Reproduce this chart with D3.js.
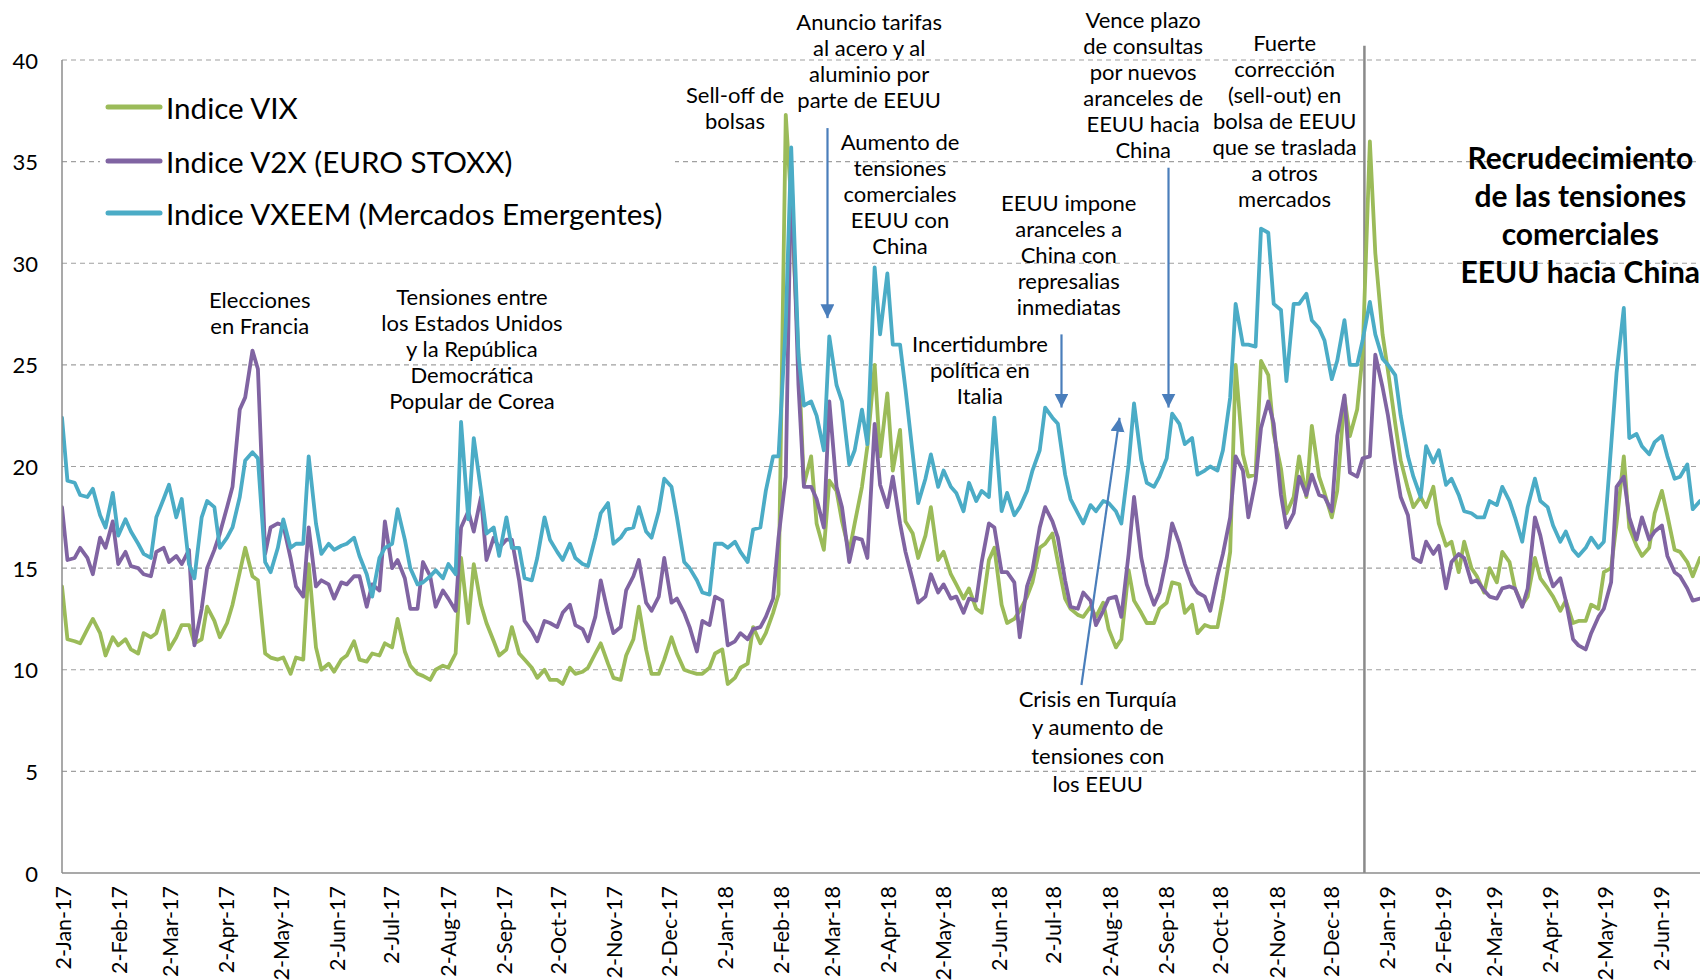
<!DOCTYPE html>
<html><head><meta charset="utf-8">
<script src="https://cdn.jsdelivr.net/npm/d3@7"></script>
<style>
html,body{margin:0;padding:0;background:#fff;}
svg{display:block;font-family:Lato,"Open Sans",sans-serif;}
</style>
</head><body>
<svg id="chart" width="1700" height="980"></svg>
<script>
// ---------------- DATA ----------------
const seriesNames = ["Indice VIX", "Indice V2X (EURO STOXX)", "Indice VXEEM (Mercados Emergentes)"];

// Sampled every Monday and Thursday, 2-Jan-2017 .. 24-Jun-2019
const vix = [
14.1,11.5, 11.4,11.3, 12.0,12.5, 11.8,10.7, 11.6,11.2, 11.5,11.0, 10.8,11.8, 11.6,11.8,
12.9,11.0, 11.6,12.2, 12.2,11.3, 11.5,13.1, 12.4,11.6, 12.3,13.2, 14.8,16.0, 14.6,14.4,
10.8,10.6, 10.5,10.6, 9.8,10.6, 10.5,15.2, 11.1,10.0, 10.3,9.9, 10.5,10.7, 11.4,10.5,
10.4,10.8, 10.7,11.3, 11.1,12.5, 10.9,10.2, 9.8,9.7, 9.5,10.0, 10.2,10.1, 10.8,15.5,
12.3,15.2, 13.2,12.3, 11.4,10.7, 11.0,12.1, 10.8,10.5, 10.1,9.6, 10.0,9.5, 9.5,9.3,
10.1,9.8, 9.9,10.1, 10.8,11.3, 10.3,9.6, 9.5,10.7, 11.5,13.1, 11.0,9.8, 9.8,10.5,
11.6,10.8, 10.0,9.9, 9.8,9.8, 10.1,10.8, 11.0,9.3, 9.6,10.1, 10.3,12.1, 11.3,11.8,
12.8,13.7, 37.3,33.0, 25.5,19.1, 20.5,17.2, 15.9,19.3, 18.8,17.3, 15.8,17.2, 19.0,21.0,
25.0,20.5, 23.6,19.8, 21.8,17.3, 16.7,15.5, 16.6,18.0, 15.4,15.8, 14.7,14.2, 13.5,14.0,
13.0,12.8, 15.4,16.0, 13.2,12.3, 12.5,12.9, 13.6,14.3, 16.0,16.2, 16.7,15.3, 13.5,13.0,
12.7,12.6, 13.1,12.6, 13.3,12.0, 11.1,11.5, 14.9,13.4, 12.8,12.3, 12.3,13.0, 13.3,14.3,
14.2,12.8, 13.2,11.8, 12.2,12.1, 12.1,13.5, 15.8,25.0, 20.6,19.5, 19.6,25.2, 24.5,21.6,
19.9,17.7, 18.5,20.5, 18.5,22.0, 19.5,18.7, 17.5,18.8, 23.4,21.5, 22.8,25.5, 36.0,30.5,
26.5,24.7, 22.1,20.3, 18.9,18.0, 18.5,18.0, 19.0,17.2, 16.1,16.3, 14.8,16.3, 15.0,14.6,
13.8,15.0, 14.3,15.8, 15.3,14.0, 13.2,13.6, 15.5,14.5, 14.0,13.6, 12.9,13.4, 12.3,12.4,
12.4,13.2, 13.0,14.8, 15.0,17.2, 20.5,17.0, 16.1,15.6, 16.0,17.7, 18.8,17.6, 15.9,15.8,
15.3,14.6, 15.5
];
const v2x = [
18.0,15.4, 15.5,16.0, 15.5,14.7, 16.5,16.0, 17.3,15.2, 15.8,15.1, 15.0,14.7, 14.6,15.8,
16.0,15.3, 15.6,15.2, 15.9,11.2, 13.0,15.0, 15.9,16.7, 18.0,19.0, 22.8,23.4, 25.7,24.8,
15.7,17.0, 17.2,17.1, 15.5,14.1, 13.6,17.0, 14.1,14.4, 14.2,13.5, 14.3,14.2, 14.6,14.6,
13.1,14.2, 13.9,17.3, 15.0,15.4, 14.5,13.0, 13.0,15.3, 14.6,13.1, 13.9,13.5, 12.9,17.0,
17.8,16.8, 18.5,15.4, 16.5,16.0, 16.4,16.4, 14.4,12.4, 11.9,11.4, 12.4,12.3, 12.1,12.8,
13.2,12.2, 12.0,11.4, 12.6,14.4, 12.8,11.8, 12.1,13.9, 14.6,15.4, 13.3,12.9, 13.6,15.5,
13.3,13.5, 12.8,12.1, 10.9,12.4, 12.2,13.6, 13.4,11.2, 11.4,11.8, 11.5,12.0, 12.1,12.6,
13.5,16.5, 19.5,34.8, 24.0,19.0, 19.0,18.4, 17.0,23.2, 19.0,18.0, 15.3,16.5, 16.4,15.5,
22.1,19.1, 18.0,19.5, 17.2,15.8, 14.4,13.3, 13.6,14.7, 13.8,14.2, 13.5,13.6, 12.8,13.5,
13.4,15.3, 17.2,17.0, 14.8,14.8, 14.3,11.6, 14.1,14.9, 17.0,18.0, 17.3,16.5, 14.4,13.1,
13.0,13.8, 13.4,12.2, 12.9,13.5, 13.6,12.6, 15.7,18.5, 15.5,14.2, 13.2,13.8, 15.5,17.2,
16.2,15.2, 14.2,13.8, 13.6,12.9, 14.6,15.7, 17.5,20.5, 19.8,17.5, 19.3,21.9, 23.2,22.1,
18.6,17.0, 17.7,19.5, 18.6,19.6, 18.6,18.5, 17.8,21.5, 23.5,19.7, 19.5,20.4, 20.5,25.5,
23.9,22.5, 20.1,18.5, 17.6,15.5, 15.3,16.3, 15.7,16.1, 14.0,15.3, 15.7,15.5, 14.3,14.4,
13.9,13.6, 13.5,14.0, 14.1,14.0, 13.1,14.0, 17.5,16.6, 14.9,14.1, 14.5,13.4, 11.5,11.2,
11.0,11.8, 12.6,13.0, 14.3,19.0, 19.5,17.5, 16.4,17.5, 16.4,16.8, 17.1,15.6, 14.8,14.6,
14.0,13.4, 13.5
];
const vxeem = [
22.4,19.3, 19.2,18.6, 18.5,18.9, 17.6,17.0, 18.7,16.6, 17.4,16.8, 16.2,15.7, 15.5,17.5,
18.4,19.1, 17.5,18.4, 15.2,14.5, 17.5,18.3, 18.0,16.0, 16.5,17.0, 18.5,20.3, 20.7,20.4,
15.3,14.8, 16.0,17.4, 16.0,16.2, 16.2,20.5, 17.2,15.7, 16.2,15.9, 16.1,16.2, 16.5,15.6,
14.7,13.6, 15.5,16.0, 16.2,17.9, 16.4,15.0, 14.2,14.3, 14.6,14.9, 14.5,15.2, 14.7,22.2,
17.4,21.4, 18.8,16.7, 17.0,15.6, 17.5,16.0, 16.0,14.5, 14.4,15.5, 17.5,16.4, 15.8,15.4,
16.2,15.5, 15.2,15.1, 16.5,17.7, 18.2,16.2, 16.5,16.9, 17.0,18.0, 16.8,16.5, 17.8,19.4,
19.0,17.5, 15.3,15.0, 14.4,13.8, 13.7,16.2, 16.2,16.0, 16.3,15.8, 15.3,16.9, 17.0,18.8,
20.5,20.5, 27.0,35.7, 25.5,23.0, 23.2,22.5, 20.8,26.4, 24.0,23.2, 20.1,20.8, 22.8,21.1,
29.8,26.5, 29.5,26.0, 26.0,23.8, 20.6,18.2, 19.4,20.6, 19.0,19.8, 19.0,18.7, 17.8,19.2,
18.3,18.8, 18.5,22.4, 17.8,18.7, 17.6,18.0, 18.8,19.8, 20.8,22.9, 22.4,22.1, 19.6,18.4,
17.7,17.2, 18.1,17.8, 18.3,18.2, 17.8,17.2, 20.1,23.1, 20.3,19.2, 19.0,19.5, 20.4,22.6,
22.1,21.1, 21.4,19.6, 19.8,20.0, 19.8,20.8, 23.4,28.0, 26.0,26.0, 25.9,31.7, 31.5,28.0,
27.7,24.2, 28.0,28.0, 28.5,27.2, 26.8,26.2, 24.3,25.2, 27.2,25.0, 25.0,26.2, 28.1,26.5,
25.3,25.0, 24.5,22.5, 20.5,19.5, 18.5,21.0, 20.2,20.8, 19.1,19.4, 18.6,17.8, 17.7,17.5,
17.5,18.3, 18.1,19.0, 18.3,17.5, 16.3,18.0, 19.4,18.3, 18.0,17.1, 16.3,16.8, 15.9,15.6,
16.0,16.5, 16.0,16.3, 21.0,24.6, 27.8,21.4, 21.6,21.0, 20.6,21.2, 21.5,20.5, 19.4,19.5,
20.1,17.9, 18.3
];

const xTickLabels = ["2-Jan-17","2-Feb-17","2-Mar-17","2-Apr-17","2-May-17","2-Jun-17","2-Jul-17","2-Aug-17",
"2-Sep-17","2-Oct-17","2-Nov-17","2-Dec-17","2-Jan-18","2-Feb-18","2-Mar-18","2-Apr-18","2-May-18","2-Jun-18",
"2-Jul-18","2-Aug-18","2-Sep-18","2-Oct-18","2-Nov-18","2-Dec-18","2-Jan-19","2-Feb-19","2-Mar-19","2-Apr-19",
"2-May-19","2-Jun-19"];
const yTicks = [0,5,10,15,20,25,30,35,40];

const annotationTexts = [
  {date:"2017-04-21", value:28.2,  lines:["Elecciones","en Francia"]},
  {date:"2017-08-16", value:28.34, lines:["Tensiones entre","los Estados Unidos","y la República","Democrática","Popular de Corea"]},
  {date:"2018-01-08", value:38.28, lines:["Sell-off de","bolsas"]},
  {date:"2018-03-23", value:41.87, lines:["Anuncio tarifas","al acero y al","aluminio por","parte de EEUU"]},
  {date:"2018-04-09", value:35.97, lines:["Aumento de","tensiones","comerciales","EEUU con","China"]},
  {date:"2018-07-11", value:33.01, lines:["EEUU impone","aranceles a","China con","represalias","inmediatas"]},
  {date:"2018-05-23", value:26.03, lines:["Incertidumbre","política en","Italia"]},
  {date:"2018-08-21", value:41.97, lines:["Vence plazo","de consultas","por nuevos","aranceles de","EEUU hacia","China"]},
  {date:"2018-11-07", value:40.84, lines:["Fuerte","corrección","(sell-out) en","bolsa de EEUU","que se traslada","a otros","mercados"]},
  {date:"2018-07-27", value:8.61,  lines:["Crisis en Turquía","y aumento de","tensiones con","los EEUU"], spacing:28.5},
  {date:"2019-04-19", value:35.23, lines:["Recrudecimiento","de las tensiones","comerciales","EEUU hacia China"], bold:true}
];
const arrowDefs = [
  {from:["2018-02-28",36.65], to:["2018-02-28",27.3]},
  {from:["2018-07-07",26.5],  to:["2018-07-07",22.9]},
  {from:["2018-09-04",34.7],  to:["2018-09-04",22.9]},
  {from:["2018-07-18",9.25],  to:["2018-08-08",22.4]}
];
const eventLineDate = "2018-12-21";

// ---------------- CHART ----------------
const M = {left:62, right:1700, top:60, bottom:873};
const svg = d3.select("#chart");
const parseTick = d3.timeParse("%d-%b-%y");
const parseISO = d3.timeParse("%Y-%m-%d");

const mondays = d3.timeMonday.range(new Date(2017,0,2), new Date(2019,5,25));
const dates = mondays.flatMap((m,i) => i < mondays.length-1 ? [m, d3.timeDay.offset(m,3)] : [m]);

const x = d3.scaleTime().domain([new Date(2017,0,2), new Date(2019,5,24)]).range([M.left, M.right]);
const y = d3.scaleLinear().domain([0,40]).range([M.bottom, M.top]);

const gridColor = "#a0a0a0";
const axisColor = "#8c8c8c";

// gridlines
svg.append("g").selectAll("line").data(yTicks.filter(v=>v>0)).join("line")
  .attr("x1", M.left).attr("x2", M.right)
  .attr("y1", d=>y(d)).attr("y2", d=>y(d))
  .attr("stroke", gridColor).attr("stroke-width",1.2).attr("stroke-dasharray","5,4");

// y tick labels
svg.append("g").selectAll("text").data(yTicks).join("text")
  .attr("x", 38).attr("y", d=>y(d)).attr("text-anchor","end").attr("dominant-baseline","central")
  .attr("font-size",22).attr("fill","#000").text(d=>d);

// x labels
svg.append("g").selectAll("text").data(xTickLabels).join("text")
  .attr("transform", d=>`translate(${x(parseTick(d))+1},886) rotate(-90)`)
  .attr("text-anchor","end").attr("dominant-baseline","central")
  .attr("font-size",21.5).attr("fill","#000").text(d=>d);

// clip
svg.append("clipPath").attr("id","plotclip").append("rect")
  .attr("x", M.left).attr("y", 0).attr("width", M.right-M.left).attr("height", M.bottom);

// event vertical line
svg.append("line")
  .attr("x1", x(parseISO(eventLineDate))).attr("x2", x(parseISO(eventLineDate)))
  .attr("y1", y(40.7)).attr("y2", y(0))
  .attr("stroke","#8a8a8a").attr("stroke-width",2.5);

// series lines
const seriesData = [
  {name:seriesNames[0], values:vix,   color:"#9BBB59"},
  {name:seriesNames[1], values:v2x,   color:"#8064A2"},
  {name:seriesNames[2], values:vxeem, color:"#4BACC6"}
];
const line = d3.line().x((d,i)=>x(dates[i])).y(d=>y(d)).curve(d3.curveLinear);
const lg = svg.append("g").attr("clip-path","url(#plotclip)");
seriesData.forEach(s=>{
  lg.append("path").datum(s.values.slice(0, dates.length))
    .attr("d", line).attr("fill","none").attr("stroke", s.color)
    .attr("stroke-width",3.8).attr("stroke-linejoin","round").attr("stroke-linecap","round");
});

// axes lines
svg.append("line").attr("x1",M.left).attr("x2",M.left).attr("y1",M.top).attr("y2",M.bottom)
  .attr("stroke",axisColor).attr("stroke-width",1.5);
svg.append("line").attr("x1",M.left).attr("x2",M.right).attr("y1",M.bottom).attr("y2",M.bottom)
  .attr("stroke",axisColor).attr("stroke-width",1.5);

// legend
const leg = svg.append("g");
leg.append("rect").attr("x",100).attr("y",80).attr("width",575).attr("height",158).attr("fill","#fff");
const legY = [107,161,213];
seriesData.forEach((s,i)=>{
  leg.append("line").attr("x1",108).attr("x2",160).attr("y1",legY[i]).attr("y2",legY[i])
    .attr("stroke",s.color).attr("stroke-width",5).attr("stroke-linecap","round");
  leg.append("text").attr("x",166).attr("y",legY[i]).attr("dominant-baseline","central")
    .attr("font-size",29.6).attr("fill","#000").text(s.name);
});

// annotations
const ag = svg.append("g");
annotationTexts.forEach(a=>{
  const cx = x(parseISO(a.date)), cy = y(a.value);
  const sp = a.bold ? 38 : (a.spacing || 26);
  a.lines.forEach((t,i)=>{
    ag.append("text").attr("x",cx).attr("y",cy+i*sp)
      .attr("text-anchor","middle").attr("dominant-baseline","central")
      .attr("font-size", a.bold ? 30 : 22).attr("font-weight", a.bold ? 700 : 400)
      .attr("fill","#000").text(t);
  });
});

// arrows
const defs = svg.append("defs");
defs.append("marker").attr("id","arrowhead").attr("markerUnits","userSpaceOnUse")
  .attr("markerWidth",16).attr("markerHeight",16).attr("refX",14).attr("refY",7)
  .attr("orient","auto")
  .append("path").attr("d","M0,0 L14,7 L0,14 Z").attr("fill","#4A7EBB");
arrowDefs.forEach(a=>{
  svg.append("line")
    .attr("x1", x(parseISO(a.from[0]))).attr("y1", y(a.from[1]))
    .attr("x2", x(parseISO(a.to[0]))).attr("y2", y(a.to[1]))
    .attr("stroke","#4A7EBB").attr("stroke-width",2.2).attr("marker-end","url(#arrowhead)");
});
</script>
</body></html>
